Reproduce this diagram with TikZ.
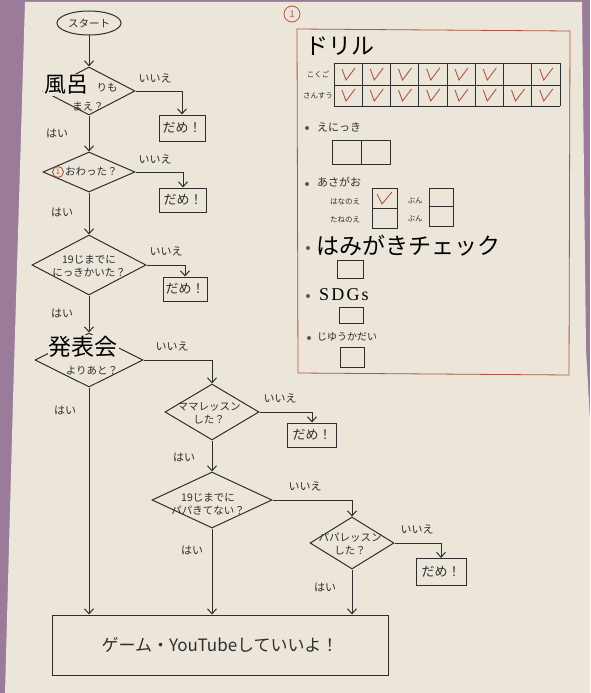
\documentclass[tikz,border=0pt]{standalone}
\usepackage{fontspec}
\setmainfont{Noto Sans CJK JP}
\newfontfamily\sdgfont[LetterSpace=12]{Liberation Serif}
\usetikzlibrary{shapes.geometric,arrows.meta}
\definecolor{paper}{HTML}{ECE6DA}
\definecolor{wall}{HTML}{9A7C9A}
\definecolor{ink}{HTML}{2E2E2E}
\definecolor{redink}{HTML}{B0553F}
\begin{document}
\begin{tikzpicture}[x=1pt,y=-1pt,
 ink/.style={draw=ink,line width=1pt},
 dia/.style={diamond,ink,inner sep=0pt},
 box/.style={rectangle,ink,inner sep=0pt,font=\fontsize{13}{13}\selectfont,text=ink},
 arr/.style={ink,-{Straight Barb[length=5pt,width=9pt]}},
 hw/.style={font=\fontsize{10.5}{13}\selectfont,text=ink,inner sep=0pt,align=center},
 yn/.style={font=\fontsize{11}{11}\selectfont,text=ink,inner sep=0pt},
 big/.style={font=\fontsize{22}{22}\selectfont,text=black,inner sep=1pt},
 small/.style={font=\fontsize{7.5}{8}\selectfont,text=ink,inner sep=0pt},
 item/.style={font=\fontsize{11}{11}\selectfont,text=ink,inner sep=0pt,anchor=west},
 cell/.style={draw=ink,line width=0.9pt},
 chk/.style={draw=redink,line width=0.9pt},
 dot/.style={circle,fill=ink!80,inner sep=0pt,minimum size=4pt},
]
\useasboundingbox (0,0) rectangle (590,693);
% background
\fill[wall] (0,0) rectangle (590,693);
\fill[paper] (25,2) -- (582,2) -- (586,350) -- (590,420) -- (590,693) -- (5,693) -- (13,400) -- cycle;

% ---------------- flowchart ----------------
\node[ellipse,ink,minimum width=64pt,minimum height=24pt,inner sep=0pt,font=\fontsize{10.5}{11}\selectfont,text=ink] (start) at (89,23) {スタート};

\node[dia,minimum width=92pt,minimum height=48pt] (d1) at (89,91) {};
\node[dia,minimum width=92pt,minimum height=40pt] (d2) at (89,172) {};
\node[dia,minimum width=114pt,minimum height=60pt] (d3) at (89,265) {};
\node[dia,minimum width=108pt,minimum height=54pt] (d4) at (89,360) {};
\node[dia,minimum width=94pt,minimum height=56pt] (d5) at (212,412) {};
\node[dia,minimum width=120pt,minimum height=56pt] (d6) at (212,500) {};
\node[dia,minimum width=84pt,minimum height=52pt] (d7) at (352,543) {};

\node[box,minimum width=46pt,minimum height=26pt] (n1) at (182,128) {だめ！};
\node[box,minimum width=47pt,minimum height=24pt] (n2) at (183,200) {だめ！};
\node[box,minimum width=44pt,minimum height=24pt] (n3) at (185,289) {だめ！};
\node[box,minimum width=49pt,minimum height=24pt] (n4) at (312,435) {だめ！};
\node[box,minimum width=50pt,minimum height=27pt] (n5) at (441,572) {だめ！};

\node[box,minimum width=336pt,minimum height=60pt,font=\fontsize{17}{17}\selectfont] (fin) at (220,645) {ゲーム・YouTubeしていいよ！};

% diamond texts
\node[hw] (t1a) at (107,88) {りも};
\node[hw] (t1b) at (88,107) {まえ？};
\node[circle,draw=redink,line width=0.9pt,inner sep=0pt,minimum size=11pt,font=\fontsize{7.5}{7.5}\selectfont,text=redink] (c1) at (58,172) {1};
\node[hw,anchor=west] (t2) at (65,172) {おわった？};
\node[hw] (t3) at (89,266) {19じまでに\\にっきかいた？};
\node[hw] (t4) at (92,371) {よりあと？};
\node[hw] (t5) at (209,413) {ママレッスン\\した？};
\node[hw] (t6) at (208,504) {19じまでに\\パパきてない？};
\node[hw] (t7) at (350,544) {パパレッスン\\した？};

% pasted printed words
\node[big,fill=paper] (w1) at (66,85) {風呂};
\node[big,fill=paper,font=\fontsize{23}{23}\selectfont] (w2) at (83,347) {発表会};

% connectors
\draw[arr] (start) -- (d1.north);
\draw[arr] (d1.south) -- (d2.north);
\draw[arr] (d2.south) -- (d3.north);
\draw[arr] (d3.south) -- (d4.north);
\draw[arr] (d4.south) -- (d4.south |- fin.north);
\draw[arr] (d5.south) -- (d6.north);
\draw[arr] (d6.south) -- (d6.south |- fin.north);
\draw[arr] (d7.south) -- (d7.south |- fin.north);

\draw[arr] (d1.east) -| (n1.north);
\draw[arr] (d2.east) -| (n2.north);
\draw[arr] (d3.east) -| (n3.north);
\draw[arr] (d4.east) -| (d5.north);
\draw[arr] (d5.east) -| (n4.north);
\draw[arr] (d6.east) -| (d7.north);
\draw[arr] (d7.east) -| (n5.north);

% yes / no labels
\node[yn] (no1) at (155,78) {いいえ};
\node[yn] (no2) at (155,159) {いいえ};
\node[yn] (no3) at (166,251) {いいえ};
\node[yn] (no4) at (172,346) {いいえ};
\node[yn] (no5) at (280,398) {いいえ};
\node[yn] (no6) at (305,486) {いいえ};
\node[yn] (no7) at (417,529) {いいえ};
\node[yn] (y1) at (57,133) {はい};
\node[yn] (y2) at (62,212) {はい};
\node[yn] (y3) at (62,313) {はい};
\node[yn] (y4) at (65,410) {はい};
\node[yn] (y5) at (184,457) {はい};
\node[yn] (y6) at (192,550) {はい};
\node[yn] (y7) at (325,587) {はい};

% ---------------- check panel ----------------
\draw[redink,line width=0.8pt] (297,29) -- (570,31) -- (569,375) -- (298,373) -- cycle;
\node[circle,draw=redink,line width=0.8pt,inner sep=0pt,minimum size=16pt,font=\fontsize{9}{9}\selectfont,text=redink] (c0) at (292,14) {1};

\node[font=\fontsize{23}{23}\selectfont,text=black,inner sep=0pt] (drill) at (340,46) {ドリル};

\node[small] (kokugo) at (318,75) {こくご};
\node[small] (sansu) at (318,96) {さんすう};
\foreach \i in {0,...,8} \draw[cell] ({334+28.25*\i},63) -- ({334+28.25*\i},106);
\foreach \yy in {63,85,106} \draw[cell] (334,\yy) -- (560,\yy);
\foreach \i in {0,1,2,3,4,5,7} \draw[chk] ({334+28.25*\i+8},69) -- ({334+28.25*\i+12},80) -- ({334+28.25*\i+21},68);
\foreach \i in {0,...,7} \draw[chk] ({334+28.25*\i+8},90) -- ({334+28.25*\i+12},101) -- ({334+28.25*\i+21},89);

% えにっき
\node[dot] (b1) at (307,128) {};
\node[item] (enikki) at (317,127) {えにっき};
\draw[cell] (332,140) rectangle (390,164);
\draw[cell] (361,140) -- (361,164);

% あさがお
\node[dot] (b2) at (307,184) {};
\node[item] (asagao) at (317,182) {あさがお};
\node[small] (hana) at (345,202) {はなのえ};
\node[small] (tane) at (345,220) {たねのえ};
\node[small] (bun1) at (415,201) {ぶん};
\node[small] (bun2) at (415,219) {ぶん};
\draw[cell] (372,188) rectangle (397,208);
\draw[cell] (372,208) rectangle (397,228);
\draw[cell] (429,188) rectangle (453,206);
\draw[cell] (429,206) rectangle (453,226);
\draw[chk] (377,194) -- (382,204) -- (392,192);

% はみがきチェック
\node[dot] (b3) at (308,248) {};
\node[font=\fontsize{23}{23}\selectfont,text=black,inner sep=0pt,anchor=west] (hami) at (316,246) {はみがきチェック};
\draw[cell] (337,260) rectangle (363,278);

% SDGs
\node[dot] (b4) at (308,296) {};
\node[font=\sdgfont\fontsize{18}{18}\selectfont,text=black,inner sep=0pt,anchor=west] (sdgs) at (319,295) {SDGs};
\draw[cell] (339,307) rectangle (363,323);

% じゆうかだい
\node[dot] (b5) at (309,338) {};
\node[item,font=\fontsize{10}{10}\selectfont] (jiyu) at (317,337) {じゆうかだい};
\draw[cell] (340,347) rectangle (364,367);
\end{tikzpicture}
\end{document}
